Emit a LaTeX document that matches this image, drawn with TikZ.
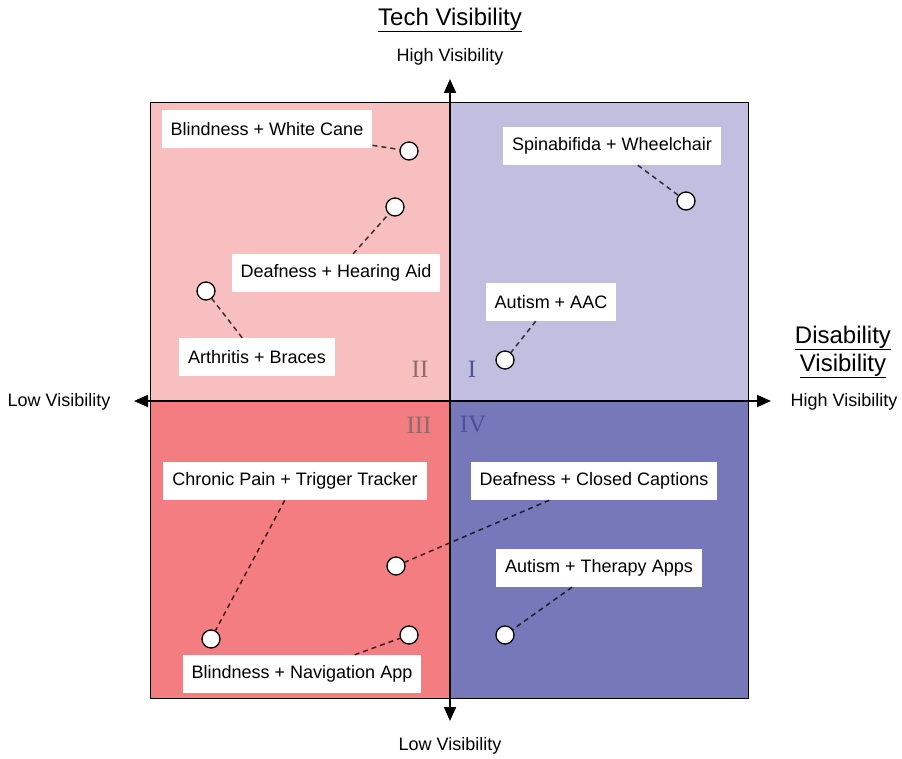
\documentclass[tikz,border=0pt]{standalone}
\usepackage{fontspec}
\setmainfont{Liberation Sans}
\newfontfamily\numfont{Liberation Serif}
\usetikzlibrary{arrows.meta,backgrounds}
\definecolor{qtwo}{HTML}{F8BFC1}
\definecolor{qone}{HTML}{C1BEE0}
\definecolor{qthree}{HTML}{F37D80}
\definecolor{qfour}{HTML}{7678BA}
\definecolor{numred}{HTML}{8E6C6E}
\definecolor{numblue}{HTML}{4E509A}

\begin{document}
\begin{tikzpicture}[x=1pt,y=-1pt,
  font=\fontsize{18}{21}\selectfont, >={Triangle[length=14pt,width=12pt]},
  lbl/.style={fill=white,inner xsep=9pt,minimum height=38pt},
  dot/.style={circle,draw,line width=1.3pt,fill=white,minimum size=18pt,inner sep=0pt},
  link/.style={dash pattern=on 5pt off 4pt,line width=1.5pt,draw opacity=0.75},
  num/.style={font=\numfont\fontsize{25}{25}\selectfont},
  ax/.style={font=\fontsize{18}{21}\selectfont},
  ttl/.style={font=\fontsize{24}{28}\selectfont,align=center}
]
\useasboundingbox (0,0) rectangle (902,759);

% quadrants
\begin{scope}[on background layer]
\fill[qtwo] (150,102) rectangle (450,401);
\fill[qone] (450,102) rectangle (748,401);
\fill[qthree] (150,401) rectangle (450,698);
\fill[qfour] (450,401) rectangle (748,698);
\draw[line width=0.8pt] (150,102) rectangle (748,698);
\end{scope}

% axes
\coordinate (xl) at (134,401);
\coordinate (xr) at (771,401);
\coordinate (yt) at (450,79);
\coordinate (yb) at (450,721);
\draw[<->,line width=2pt] (xl) -- (xr);
\draw[<->,line width=2pt] (yb) -- (yt);

\node[ttl] (tech) at (450,20) {\underline{Tech Visibility}};
\node[ttl] (dis) at (843,352) {\underline{Disability}\\\underline{Visibility}};
\node[ax] (yhigh) at (450,57) {High Visibility};
\node[ax] (ylow) at (450,746) {Low Visibility};
\node[ax] (xlow) at (59,402) {Low Visibility};
\node[ax] (xhigh) at (844,402) {High Visibility};

\node[num,text=numred] (n2) at (420,369) {II};
\node[num,text=numblue] (n1) at (472,369) {I};
\node[num,text=numred] (n3) at (419,425) {III};
\node[num,text=numblue] (n4) at (473,425) {IV};

% labels and points
\node[lbl] (cane) at (267,129) {Blindness + White Cane};
\node[dot] (pcane) at (409,151) {};
\node[lbl] (hear) at (336,273) {Deafness + Hearing Aid};
\node[dot] (phear) at (395,207) {};
\node[lbl] (brace) at (257,357) {Arthritis + Braces};
\node[dot] (pbrace) at (206,291) {};
\node[lbl] (wheel) at (612,146) {Spinabifida + Wheelchair};
\node[dot] (pwheel) at (686,201) {};
\node[lbl] (aac) at (551,302) {Autism + AAC};
\node[dot] (paac) at (505,360) {};
\node[lbl] (pain) at (295,481) {Chronic Pain + Trigger Tracker};
\node[dot] (ppain) at (211,639) {};
\node[lbl] (nav) at (302,674) {Blindness + Navigation App};
\node[dot] (pnav) at (409,635) {};
\node[lbl] (capt) at (594,481) {Deafness + Closed Captions};
\node[dot] (pcapt) at (396,566) {};
\node[lbl] (ther) at (599,568) {Autism + Therapy Apps};
\node[dot] (pther) at (505,635) {};

\foreach \a/\b in {cane/pcane,hear/phear,brace/pbrace,wheel/pwheel,aac/paac,
  pain/ppain,nav/pnav,capt/pcapt,ther/pther}
  \draw[link] (\a) -- (\b);
\end{tikzpicture}
\end{document}
